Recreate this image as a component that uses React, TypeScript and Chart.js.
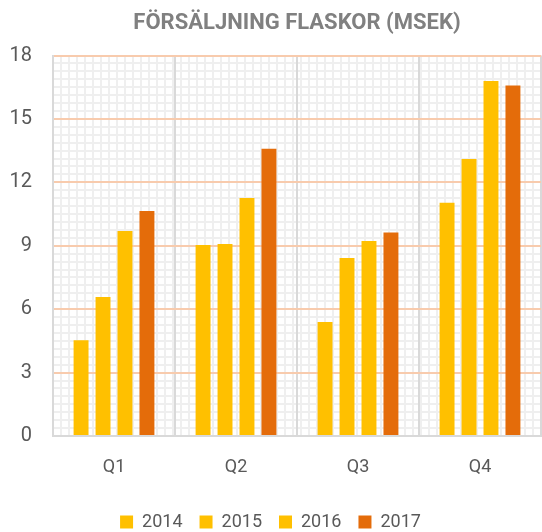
import React, { useEffect, useRef } from 'react';
import { Chart, registerables } from 'chart.js';

Chart.register(...registerables);

const titleText = 'FÖRSÄLJNING FLASKOR (MSEK)';
const categories = ['Q1', 'Q2', 'Q3', 'Q4'];
const seriesLabels = ['2014', '2015', '2016', '2017'];
const values2014 = [4.53, 9.03, 5.39, 11.04];
const values2015 = [6.58, 9.08, 8.42, 13.1];
const values2016 = [9.7, 11.26, 9.22, 16.79];
const values2017 = [10.64, 13.59, 9.63, 16.58];
const seriesValues = [values2014, values2015, values2016, values2017];
const seriesColors = ['#FFC000', '#FFC000', '#FFC000', '#E46C0A'];
const yMin = 0;
const yMax = 18;
const yStep = 3;
const yMinorStep = 0.375;
const xMinorCount = 60;

const FONT = 'Roboto, "DejaVu Sans", sans-serif';

export default function App() {
  const canvasRef = useRef<HTMLCanvasElement | null>(null);

  useEffect(() => {
    const canvas = canvasRef.current;
    if (!canvas) return;
    const chart = new Chart(canvas, {
      type: 'bar',
      data: {
        labels: categories,
        datasets: seriesLabels.map((label, i) => ({
          label,
          data: seriesValues[i],
          backgroundColor: seriesColors[i],
          borderColor: seriesColors[i],
          borderWidth: 0,
          categoryPercentage: 0.72,
          barPercentage: 0.68,
        })),
      },
      options: {
        responsive: false,
        animation: false,
        devicePixelRatio: 1,
        layout: { padding: { left: 0, right: 1, top: 0, bottom: -9 } },
        plugins: {
          title: {
            display: true,
            text: titleText,
            fullSize: false,
            color: '#808080',
            font: { family: FONT, size: 22, weight: 'bold', lineHeight: 1.2 },
            padding: { top: 10.5, bottom: 18.6 },
          },
          legend: {
            position: 'bottom',
            labels: {
              boxWidth: 13,
              boxHeight: 13,
              padding: 17,
              color: '#595959',
              font: { family: FONT, size: 18 },
            },
          },
          tooltip: { enabled: false },
        },
        scales: {
          x: {
            type: 'category',
            position: 'bottom',
            offset: true,
            grid: { color: '#D9D9D9', lineWidth: 2, drawTicks: false, offset: true },
            border: { color: '#D9D9D9', width: 2 },
            ticks: { color: '#595959', padding: 21, font: { family: FONT, size: 18 } },
            afterFit: (s: any) => { s.height = 60; },
          },
          xMinor: {
            type: 'linear',
            position: 'bottom',
            min: 0,
            max: xMinorCount,
            ticks: { display: false, stepSize: 1 },
            grid: { color: '#EFEFEF', lineWidth: 2, drawTicks: false, z: -2 },
            border: { display: false },
            afterFit: (s: any) => { s.height = 0; },
          },
          y: {
            type: 'linear',
            position: 'left',
            min: yMin,
            max: yMax,
            ticks: { stepSize: yStep, color: '#595959', padding: 21, font: { family: FONT, size: 20 } },
            grid: {
              color: (ctx: any) => (ctx.tick && ctx.tick.value === 0 ? '#D9D9D9' : '#F8CBAD'),
              lineWidth: 2,
              drawTicks: false,
            },
            border: { color: '#D9D9D9', width: 2 },
            afterFit: (s: any) => { s.width = 53; },
          },
          yMinor: {
            type: 'linear',
            position: 'left',
            min: yMin,
            max: yMax,
            ticks: { display: false, stepSize: yMinorStep },
            grid: { color: '#EFEFEF', lineWidth: 2, drawTicks: false, z: -2 },
            border: { display: false },
            afterFit: (s: any) => { s.width = 0; },
          },
        },
      },
    } as any);
    return () => chart.destroy();
  }, []);

  return (
    <div style={{ position: 'fixed', left: 0, top: 0, width: 542, height: 532, background: '#fff' }}>
      <canvas ref={canvasRef} width={542} height={532} style={{ display: 'block' }} />
    </div>
  );
}
